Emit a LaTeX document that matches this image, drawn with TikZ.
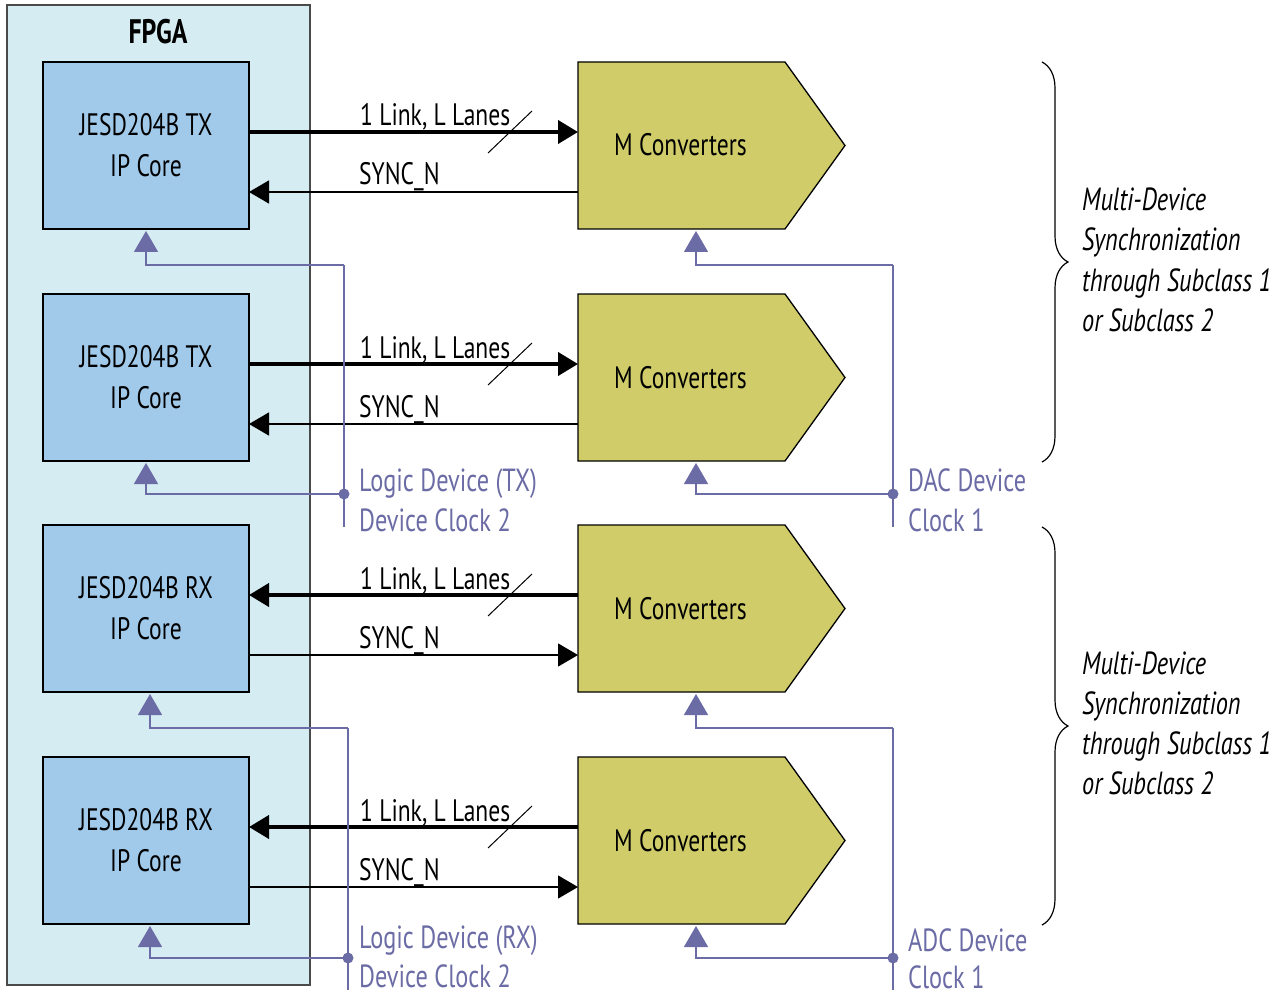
\documentclass[tikz,border=0pt]{standalone}
\usepackage{fontspec}
\setmainfont{PT Sans}[FakeStretch=0.76]
\usetikzlibrary{arrows.meta,decorations.pathreplacing,calc}
\definecolor{fpgafill}{HTML}{D4ECF2}
\definecolor{fpgaline}{HTML}{4A4A4A}
\definecolor{ipfill}{HTML}{A0C9EA}
\definecolor{convfill}{HTML}{CFCC69}
\definecolor{clk}{HTML}{6B6BA5}
\newcommand{\mainsz}{\fontsize{31}{41}\selectfont}
\newcommand{\clksz}{\fontsize{32}{40}\selectfont}
\newcommand{\notesz}{\fontsize{32}{40}\selectfont}
\begin{document}
\begin{tikzpicture}[x=1pt,y=-1pt,
  fpga/.style={draw=fpgaline, fill=fpgafill, line width=1.5pt, minimum width=303pt, minimum height=980pt, anchor=north west, inner sep=0pt, outer sep=0pt},
  ipbox/.style={draw=black, fill=ipfill, line width=1.3pt, minimum width=206pt, minimum height=167pt, anchor=north west, align=center, inner sep=0pt, outer sep=0pt, font=\mainsz},
  convbox/.style={minimum width=267pt, minimum height=167pt, anchor=north west, inner sep=0pt, outer sep=0pt},
  convshape/.style={draw=black, fill=convfill, line width=1.3pt, line join=miter},
  lbl/.style={anchor=base west, font=\mainsz, inner sep=0pt},
  clklbl/.style={anchor=base west, font=\clksz, text=clk, inner sep=0pt},
  note/.style={anchor=base west, font=\notesz\itshape, inner sep=0pt},
  link/.style={line width=4pt, -{Triangle[length=20pt,width=23pt]}},
  sync/.style={line width=1.4pt, -{Triangle[length=20pt,width=23pt]}},
  slash/.style={line width=1pt},
  clkline/.style={draw=clk, line width=1.4pt},
  clktip/.style={{Triangle[length=21pt,width=24pt]}-},
  bracestyle/.style={decorate, decoration={brace, amplitude=26pt}, line width=1.2pt}
]
\useasboundingbox (0,0) rectangle (1288,995);
\node[fpga] (fpga) at (7,5) {};
\node[anchor=base, font=\fontsize{34}{40}\selectfont\bfseries, inner sep=0pt] (fpgat) at (158,44) {FPGA};
\node[ipbox] (ip1) at (43,62) {JESD204B TX\\IP Core};
\node[ipbox] (ip2) at (43,294) {JESD204B TX\\IP Core};
\node[ipbox] (ip3) at (43,525) {JESD204B RX\\IP Core};
\node[ipbox] (ip4) at (43,757) {JESD204B RX\\IP Core};
\foreach \i/\t in {1/62,2/294,3/525,4/757} {
  \node[convbox] (c\i) at (578,\t) {};
  \draw[convshape] (c\i.north west) -- ($(c\i.north east)+(-60,0)$) -- (c\i.east) -- ($(c\i.south east)+(-60,0)$) -- (c\i.south west) -- cycle;
  \node[lbl] (c\i t) at ($(c\i.north west)+(36,94)$) {M Converters};
  \node[lbl] (ll\i) at ($(ip\i.north east)+(111,64)$) {1 Link, L Lanes};
  \node[lbl] (sl\i) at ($(ip\i.north east)+(110,123)$) {SYNC\_N};
  \draw[slash] ($(c\i.north west)+(-90,91)$) -- ($(c\i.north west)+(-46,49)$);
}
% links and sync
\draw[link] ($(ip1.north east)+(0,70)$) -- ($(c1.north west)+(0,70)$);
\draw[sync] ($(c1.north west)+(0,130)$) -- ($(ip1.north east)+(0,130)$);
\draw[link] ($(ip2.north east)+(0,70)$) -- ($(c2.north west)+(0,70)$);
\draw[sync] ($(c2.north west)+(0,130)$) -- ($(ip2.north east)+(0,130)$);
\draw[link] ($(c3.north west)+(0,70)$) -- ($(ip3.north east)+(0,70)$);
\draw[sync] ($(ip3.north east)+(0,130)$) -- ($(c3.north west)+(0,130)$);
\draw[link] ($(c4.north west)+(0,70)$) -- ($(ip4.north east)+(0,70)$);
\draw[sync] ($(ip4.north east)+(0,130)$) -- ($(c4.north west)+(0,130)$);
% clock coordinates
\coordinate (txtop) at (344,265);
\coordinate (txdot) at (344,494);
\coordinate (txend) at (344,527);
\coordinate (dactop) at (893,265);
\coordinate (dacdot) at (893,494);
\coordinate (dacend) at (893,527);
\coordinate (rxtop) at (348,728);
\coordinate (rxdot) at (348,958);
\coordinate (rxend) at (348,990);
\coordinate (adctop) at (893,728);
\coordinate (adcdot) at (893,958);
\coordinate (adcend) at (893,990);
% clock lines
\draw[clkline] (txtop) -- (txend);
\draw[clkline, clktip] ($(ip1.south)+(0,2)$) |- (txtop);
\draw[clkline, clktip] ($(ip2.south)+(0,2)$) |- (txdot);
\fill[clk] (txdot) circle (5.5pt);
\draw[clkline] (dactop) -- (dacend);
\draw[clkline, clktip] ($(c1.south west)+(118,2)$) |- (dactop);
\draw[clkline, clktip] ($(c2.south west)+(118,2)$) |- (dacdot);
\fill[clk] (dacdot) circle (5.5pt);
\draw[clkline] (rxtop) -- (rxend);
\draw[clkline, clktip] ($(ip3.south)+(4,2)$) |- (rxtop);
\draw[clkline, clktip] ($(ip4.south)+(4,2)$) |- (rxdot);
\fill[clk] (rxdot) circle (5.5pt);
\draw[clkline] (adctop) -- (adcend);
\draw[clkline, clktip] ($(c3.south west)+(118,2)$) |- (adctop);
\draw[clkline, clktip] ($(c4.south west)+(118,2)$) |- (adcdot);
\fill[clk] (adcdot) circle (5.5pt);
% clock labels
\node[clklbl] (txl1) at (359,491) {Logic Device (TX)};
\node[clklbl] (txl2) at (359,531) {Device Clock 2};
\node[clklbl] (dacl1) at (908,491) {DAC Device};
\node[clklbl] (dacl2) at (908,531) {Clock 1};
\node[clklbl] (rxl1) at (359,948) {Logic Device (RX)};
\node[clklbl] (rxl2) at (359,987) {Device Clock 2};
\node[clklbl] (adcl1) at (908,951) {ADC Device};
\node[clklbl] (adcl2) at (908,988) {Clock 1};
% braces
\draw[bracestyle] (1042,62) -- (1042,462);
\draw[bracestyle] (1042,527) -- (1042,925);
\node[note] (n1a) at (1082,211) {Multi-Device};
\node[note] (n1b) at (1082,251) {Synchronization};
\node[note] (n1c) at (1082,291) {through Subclass 1};
\node[note] (n1d) at (1082,331) {or Subclass 2};
\node[note] (n2a) at (1082,674) {Multi-Device};
\node[note] (n2b) at (1082,714) {Synchronization};
\node[note] (n2c) at (1082,754) {through Subclass 1};
\node[note] (n2d) at (1082,794) {or Subclass 2};
\end{tikzpicture}
\end{document}
